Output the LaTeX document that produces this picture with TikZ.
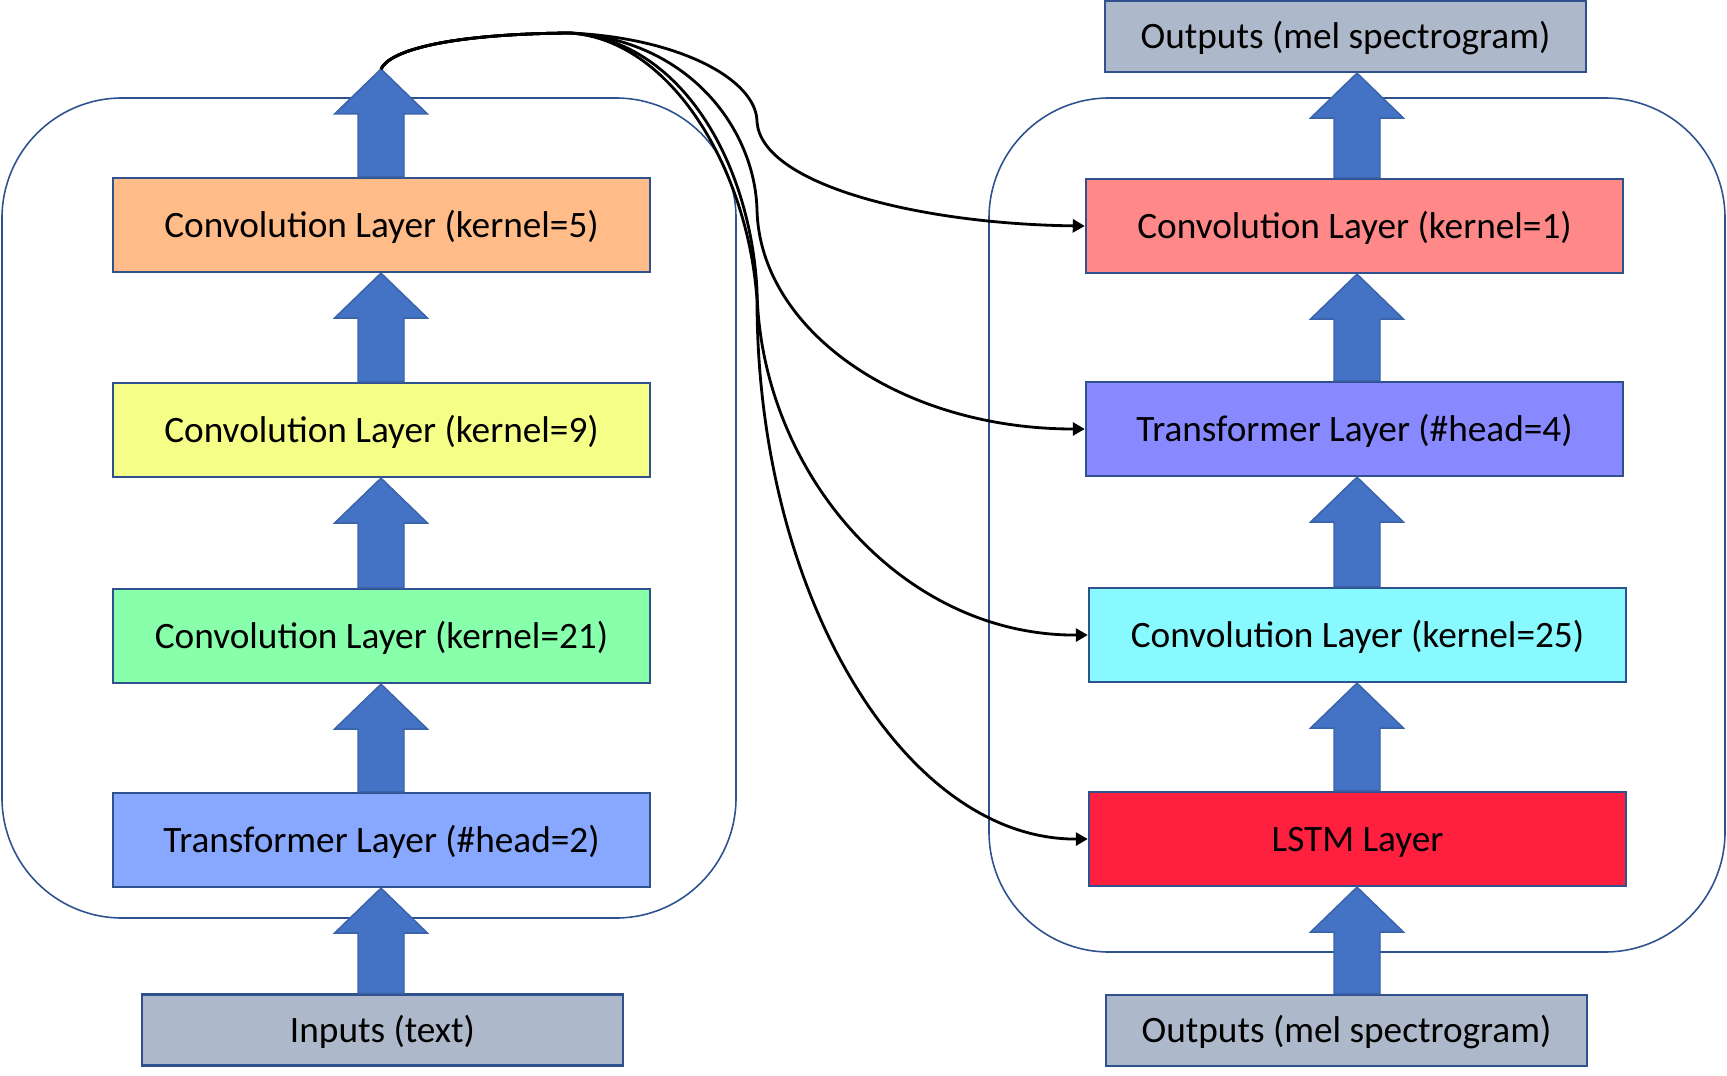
\documentclass[tikz,border=0pt]{standalone}
\usepackage{fontspec}
\setmainfont{Carlito}
\usepackage{tikz}
\usetikzlibrary{calc,arrows.meta,positioning}

\tikzset{
  layer/.style={draw=boxedge, line width=0.6pt, minimum width=5.37cm,
    minimum height=0.94cm, inner sep=0pt, text height=0.9em, text depth=0.2em,
    font=\fontsize{10.6}{12.6}\selectfont},
  iobox/.style={layer, fill=iogray, minimum width=4.8cm, minimum height=0.71cm},
  panel/.style={draw=boxedge, line width=0.45pt, rounded corners=1.2cm},
  blockarrow/.style={fill=arrowblue, draw=arrowedge, line width=0.4pt},
  skipline/.style={draw=black, line width=0.8pt, -{Triangle[length=0.12cm,width=0.13cm]}},
}

% fat upward arrow: x-coordinate, start point, tip point
\newcommand{\blockup}[3]{%
  \filldraw[blockarrow] ($(#1 |- #2)+(-23,0)$) -- ($(#1 |- #3)+(-23,45)$)
    -- ++(-23.5,0) -- (#1 |- #3) -- ++(46.5,45) -- ++(-23.5,0)
    -- ($(#1 |- #2)+(23,0)$) -- cycle;
}

\begin{document}
\begin{tikzpicture}[x=0.01cm, y=-0.01cm]
  \definecolor{boxedge}{HTML}{2F528F}
  \definecolor{arrowblue}{HTML}{4472C4}
  \definecolor{arrowedge}{HTML}{3A62A8}
  \definecolor{iogray}{HTML}{ADB9CA}
  \definecolor{ckfive}{HTML}{FFBB88}
  \definecolor{cknine}{HTML}{F5FF88}
  \definecolor{cktwentyone}{HTML}{88FFAA}
  \definecolor{tltwo}{HTML}{88A8FF}
  \definecolor{ckone}{HTML}{FF8888}
  \definecolor{tlfour}{HTML}{8888FF}
  \definecolor{cktwentyfive}{HTML}{88FAFF}
  \definecolor{lstmred}{HTML}{FF2040}

  \useasboundingbox (0,0) rectangle (1727,1076);

  % encoder / decoder frames
  \draw[panel] (2,98) rectangle (736,918);
  \draw[panel] (989,98) rectangle (1725,952);

  % encoder
  \node[layer, fill=ckfive]       (ck5)  at (381.5,225) {Convolution Layer (kernel=5)};
  \node[layer, fill=cknine]       (ck9)  at (381.5,430) {Convolution Layer (kernel=9)};
  \node[layer, fill=cktwentyone]  (ck21) at (381.5,636) {Convolution Layer (kernel=21)};
  \node[layer, fill=tltwo]        (tl2)  at (381.5,840) {Transformer Layer (\#head=2)};
  \node[iobox]                    (inp)  at (382.5,1030) {Inputs (text)};

  % decoder
  \node[iobox]                    (outt) at (1345.5,36.5) {Outputs (mel spectrogram)};
  \node[layer, fill=ckone]        (ck1)  at (1354.5,226) {Convolution Layer (kernel=1)};
  \node[layer, fill=tlfour]       (tl4)  at (1354.5,429) {Transformer Layer (\#head=4)};
  \node[layer, fill=cktwentyfive] (ck25) at (1357.5,635) {Convolution Layer (kernel=25)};
  \node[layer, fill=lstmred]      (lstm) at (1357.5,839) {LSTM Layer};
  \node[iobox]                    (outb) at (1346.5,1030.5) {Outputs (mel spectrogram)};

  \coordinate (lx) at (381,0);
  \coordinate (rx) at (1357,0);
  \coordinate (ltop) at (381,69);

  \foreach \a/\b in {inp/tl2, tl2/ck21, ck21/ck9, ck9/ck5}
    \blockup{lx}{\a.north}{\b.south};
  \blockup{lx}{ck5.north}{ltop}
  \foreach \a/\b in {outb/lstm, lstm/ck25, ck25/tl4, tl4/ck1, ck1/outt}
    \blockup{rx}{\a.north}{\b.south};

  % encoder output fed to every decoder layer
  \draw[skipline] (ltop) .. controls (390,50) and (450,34) .. (570,33)
    .. controls (680,38) and (757,80) .. (757,122)
    .. controls (762,185) and (920,224) .. (ck1.west);
  \draw[skipline] (ltop) .. controls (390,50) and (450,34) .. (570,33)
    .. controls (690,40) and (755,130) .. (757,210)
    .. controls (760,330) and (900,429) .. (tl4.west);
  \draw[skipline] (ltop) .. controls (390,50) and (450,34) .. (570,33)
    .. controls (680,40) and (750,160) .. (757,290)
    .. controls (760,470) and (900,636) .. (ck25.west);
  \draw[skipline] (ltop) .. controls (390,50) and (450,34) .. (570,33)
    .. controls (672,40) and (748,170) .. (757,300)
    .. controls (757,598) and (906,840) .. (lstm.west);
\end{tikzpicture}
\end{document}
